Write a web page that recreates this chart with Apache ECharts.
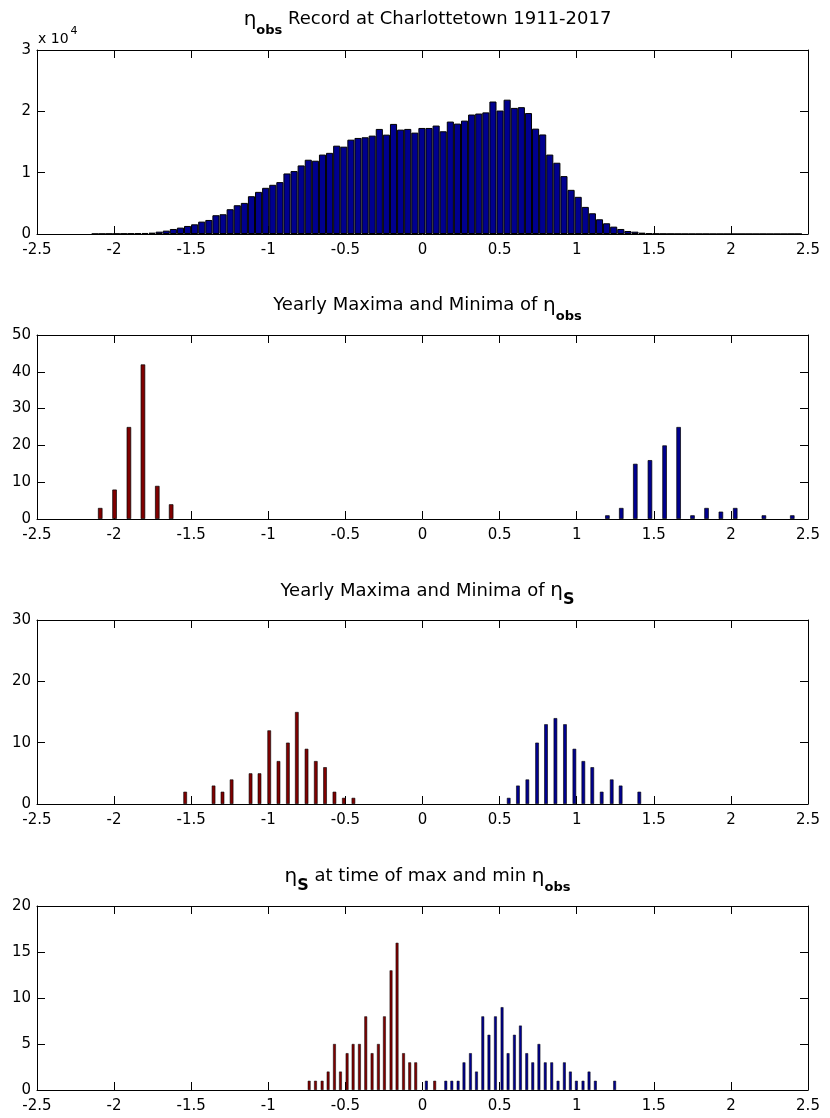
<!DOCTYPE html>
<html>
<head>
<meta charset="utf-8">
<title>Charlottetown water level histograms</title>
<script src="https://cdn.jsdelivr.net/npm/echarts@6/dist/echarts.min.js"></script>
<style>
html, body { margin: 0; padding: 0; background: #fff; }
#chart { width: 830px; height: 1118px; }
</style>
</head>
<body>
<div id="chart"></div>
<script>
// panel 1: full hourly record, 100 equal bins
var obsBinStart = -2.1455;
var obsBinWidth = 0.04606;
var obsCounts = [
	30, 40, 50, 60, 80, 100, 130, 170, 220, 380,
	550, 820, 1040, 1310, 1580, 2020, 2290, 3060, 3220, 4040,
	4690, 5070, 6160, 6870, 7530, 8020, 8460, 9870, 10260, 11180,
	12110, 11950, 12950, 13230, 14400, 14240, 15380, 15660, 15770, 16040,
	17130, 16200, 17950, 17020, 17130, 16530, 17290, 17290, 17680, 16750,
	18330, 18000, 18490, 19480, 19640, 19830, 21600, 20130, 21900, 20560,
	20680, 19720, 17180, 16230, 12950, 11620, 9440, 7200, 6060, 4420,
	3380, 2400, 1750, 1200, 820, 490, 380, 220, 110, 60,
	40, 30, 20, 15, 10, 8, 6, 5, 4, 3,
	3, 2, 2, 0, 2, 0, 0, 0, 1, 1
];

// panel 2: yearly minima / maxima of eta_obs
var minX2 = [-2.090, -1.997, -1.904, -1.813, -1.720, -1.630];
var minN2 = [3, 8, 25, 42, 9, 4];
var maxX2 = [1.199, 1.289, 1.380, 1.475, 1.570, 1.661, 1.751, 1.842, 1.935, 2.028, 2.214, 2.398];
var maxN2 = [1, 3, 15, 16, 20, 25, 1, 3, 2, 3, 1, 1];

// panel 3: yearly minima / maxima of eta_S
var minX3 = [-1.539, -1.355, -1.297, -1.238, -1.115, -1.057, -0.994, -0.934, -0.873, -0.815, -0.752, -0.692, -0.632, -0.571, -0.510, -0.448];
var minN3 = [2, 3, 2, 4, 5, 5, 12, 7, 10, 15, 9, 7, 6, 2, 1, 1];
var maxX3 = [0.559, 0.619, 0.680, 0.743, 0.801, 0.862, 0.924, 0.985, 1.043, 1.101, 1.162, 1.227, 1.285, 1.406];
var maxN3 = [1, 3, 4, 10, 13, 14, 13, 9, 7, 6, 2, 4, 3, 2];

// panel 4: eta_S at the time of the yearly min / max of eta_obs
var minX4 = [-0.735, -0.694, -0.651, -0.612, -0.571, -0.532, -0.489, -0.450, -0.409, -0.368, -0.327, -0.286, -0.247, -0.204, -0.165, -0.123, -0.083, -0.044, 0.079];
var minN4 = [1, 1, 1, 2, 5, 2, 4, 5, 5, 8, 4, 5, 8, 13, 16, 4, 3, 3, 1];
var maxX4 = [0.025, 0.151, 0.190, 0.231, 0.269, 0.311, 0.350, 0.391, 0.431, 0.473, 0.516, 0.555, 0.596, 0.635, 0.676, 0.715, 0.755, 0.796, 0.838, 0.879, 0.920, 0.959, 0.998, 1.041, 1.080, 1.121, 1.246];
var maxN4 = [1, 1, 1, 1, 3, 4, 2, 8, 6, 8, 9, 4, 6, 7, 4, 3, 5, 3, 3, 1, 3, 2, 1, 1, 2, 1, 1];

var xTicks = { min: -2.5, max: 2.5, interval: 0.5 };
var yTicks = [
	{ max: 30000, interval: 10000 },
	{ max: 50, interval: 10 },
	{ max: 30, interval: 10 },
	{ max: 20, interval: 5 }
];

var font = 'DejaVu Sans';
var blue = '#00008f';
var red = '#800000';
var gridLeft = 37, gridWidth = 771, gridHeight = 184;
var gridTops = [50, 335, 620, 906];
var pxPerUnit = gridWidth / (xTicks.max - xTicks.min);

function pairs(xs, ns) {
	var out = [];
	for (var i = 0; i < xs.length; i++) out.push([xs[i], ns[i]]);
	return out;
}

var obsData = [];
for (var k = 0; k < obsCounts.length; k++) {
	obsData.push([obsBinStart + (k + 0.5) * obsBinWidth, obsCounts[k]]);
}

var tickStyle = { inside: true, length: 8, lineStyle: { color: '#000', width: 1 } };
var lineStyle = { show: true, onZero: false, lineStyle: { color: '#000', width: 1 } };

var grids = [], xAxes = [], yAxes = [];
gridTops.forEach(function (top, i) {
	grids.push({ left: gridLeft, top: top, width: gridWidth, height: gridHeight });
	['bottom', 'top'].forEach(function (pos) {
		xAxes.push({
			gridIndex: i, type: 'value', position: pos,
			min: xTicks.min, max: xTicks.max, interval: xTicks.interval,
			axisLine: lineStyle, axisTick: tickStyle,
			axisLabel: { show: pos === 'bottom', color: '#000', fontSize: 15, fontFamily: font, margin: 9 },
			splitLine: { show: false }
		});
	});
	['left', 'right'].forEach(function (pos) {
		yAxes.push({
			gridIndex: i, type: 'value', position: pos,
			min: 0, max: yTicks[i].max, interval: yTicks[i].interval,
			axisLine: lineStyle, axisTick: tickStyle,
			axisLabel: {
				show: pos === 'left', color: '#000', fontSize: 15, fontFamily: font, margin: 6,
				formatter: i === 0 ? function (v) { return v / 10000; } : null
			},
			splitLine: { show: false }
		});
	});
});

function barSeries(panel, data, color, width, border) {
	return {
		type: 'bar',
		xAxisIndex: panel * 2, yAxisIndex: panel * 2,
		data: data,
		barWidth: width,
		barGap: '-100%',
		silent: true,
		itemStyle: { color: color, borderColor: '#000', borderWidth: border }
	};
}

var titleRich = {
	t: { fontSize: 18, fontFamily: font, fontWeight: 'normal', color: '#000' },
	e: { fontSize: 20, fontFamily: font, fontWeight: 'normal', color: '#000' },
	s: { fontSize: 13, fontFamily: font, fontWeight: 'bold', color: '#000', padding: [22, 0, 0, 0] },
	S: { fontSize: 16, fontFamily: font, fontWeight: 'bold', color: '#000', padding: [18, 0, 0, 0] }
};
var titleX = gridLeft + gridWidth / 2;

var option = {
	animation: false,
	backgroundColor: '#fff',
	title: [
		{ text: '{e|η}{s|obs}{t| Record at Charlottetown 1911-2017}', left: titleX, textAlign: 'center', top: -3, textStyle: { fontWeight: 'normal', rich: titleRich } },
		{ text: '{t|Yearly Maxima and Minima of }{e|η}{s|obs}', left: titleX, textAlign: 'center', top: 283, textStyle: { fontWeight: 'normal', rich: titleRich } },
		{ text: '{t|Yearly Maxima and Minima of }{e|η}{S|S}', left: titleX, textAlign: 'center', top: 569, textStyle: { fontWeight: 'normal', rich: titleRich } },
		{ text: '{e|η}{S|S}{t| at time of max and min }{e|η}{s|obs}', left: titleX, textAlign: 'center', top: 854, textStyle: { fontWeight: 'normal', rich: titleRich } },
		{
			text: '{a|x 10}{p|4}', left: 33, top: 21,
			textStyle: { fontWeight: 'normal', rich: {
				a: { fontSize: 14, fontFamily: font, fontWeight: 'normal', color: '#000' },
				p: { fontSize: 11, fontFamily: font, fontWeight: 'normal', color: '#000', padding: [0, 0, 16, 2] }
			} }
		}
	],
	grid: grids,
	xAxis: xAxes,
	yAxis: yAxes,
	series: [
		barSeries(0, obsData, blue, obsBinWidth * pxPerUnit, 1),
		barSeries(1, pairs(minX2, minN2), red, 4.5, 0.7),
		barSeries(1, pairs(maxX2, maxN2), blue, 4.5, 0.7),
		barSeries(2, pairs(minX3, minN3), red, 3.6, 0.6),
		barSeries(2, pairs(maxX3, maxN3), blue, 3.6, 0.6),
		barSeries(3, pairs(minX4, minN4), red, 2.8, 0.5),
		barSeries(3, pairs(maxX4, maxN4), blue, 2.8, 0.5)
	]
};

var myChart = echarts.init(document.getElementById('chart'));
myChart.setOption(option);
</script>
</body>
</html>
